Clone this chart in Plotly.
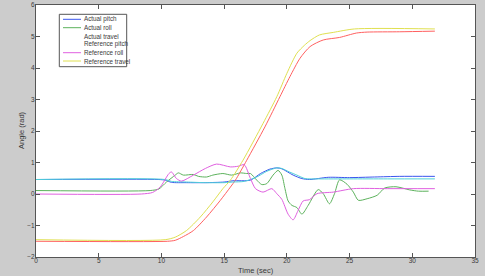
import plotly.graph_objects as go

# ---- data ----
pitch_t = [0, 9.8, 10.3, 10.8, 12.0, 13.5, 15.0, 15.7, 17.1, 17.9, 18.65, 19.2, 19.6, 20.5, 21.2, 21.8, 23.3, 25.0, 27.0, 29.0, 31.8]
pitch_y = [0.46, 0.46, 0.44, 0.37, 0.36, 0.36, 0.38, 0.42, 0.44, 0.65, 0.79, 0.83, 0.80, 0.60, 0.49, 0.46, 0.53, 0.52, 0.54, 0.56, 0.56]

roll_t = [0, 9.1, 9.8, 10.4, 11.1, 11.35, 11.75, 12.55, 12.95, 13.6, 14.1, 14.9, 15.6, 16.3, 16.8, 17.1, 17.6, 18.0, 18.4, 18.9, 19.3, 19.6, 19.85, 20.1, 20.4, 20.8, 21.2, 21.7, 22.5, 22.9, 23.4, 23.8, 24.2, 24.8, 25.3, 25.7, 26.4, 27.2, 27.8, 28.7, 29.8, 30.5, 31.3]
roll_y = [0.11, 0.11, 0.16, 0.38, 0.60, 0.67, 0.60, 0.62, 0.56, 0.54, 0.60, 0.65, 0.60, 0.67, 0.65, 0.65, 0.44, 0.30, 0.33, 0.60, 0.75, 0.60, 0.17, -0.22, -0.36, -0.43, -0.64, -0.36, 0.14, 0.01, -0.31, 0.01, 0.45, 0.31, 0.06, -0.20, -0.15, -0.04, 0.19, 0.23, 0.13, 0.09, 0.09]

travel_t = [0, 10.5, 11.1, 11.75, 12.55, 13.6, 14.7, 15.5, 15.9, 16.8, 18.25, 19.45, 20.25, 21.05, 21.85, 22.9, 24.2, 25.55, 26.4, 29.0, 31.8]
travel_y = [-1.50, -1.50, -1.47, -1.35, -1.16, -0.73, -0.20, 0.22, 0.44, 1.07, 2.13, 3.09, 3.73, 4.31, 4.68, 4.89, 4.97, 5.11, 5.14, 5.15, 5.17]

ref_pitch_t = [0, 10.3, 10.8, 12.0, 13.5, 15.0, 15.7, 16.6, 17.6, 18.4, 19.2, 19.6, 20.2, 20.8, 21.45, 22.5, 25.0, 28.0, 31.8]
ref_pitch_y = [0.46, 0.46, 0.40, 0.38, 0.36, 0.36, 0.38, 0.40, 0.54, 0.72, 0.83, 0.81, 0.70, 0.60, 0.49, 0.48, 0.48, 0.48, 0.48]

ref_roll_t = [0, 8.4, 9.3, 9.9, 10.6, 10.8, 11.2, 11.6, 12.55, 13.5, 14.4, 15.5, 16.1, 16.6, 17.1, 17.5, 18.1, 18.8, 19.2, 19.6, 20.1, 20.5, 20.9, 21.3, 21.8, 22.4, 23.7, 25.3, 28.0, 31.8]
ref_roll_y = [0.0, 0.0, 0.05, 0.22, 0.65, 0.70, 0.49, 0.41, 0.60, 0.81, 0.95, 0.86, 0.88, 0.93, 0.49, 0.17, 0.06, 0.17, 0.01, -0.17, -0.64, -0.82, -0.52, -0.22, -0.18, 0.01, 0.06, 0.17, 0.17, 0.17]

ref_travel_t = [0, 10.3, 11.1, 12.0, 13.1, 14.1, 14.9, 15.5, 16.5, 18.1, 19.2, 20.0, 20.8, 21.4, 21.85, 22.6, 23.7, 25.4, 31.8]
ref_travel_y = [-1.45, -1.45, -1.37, -1.16, -0.73, -0.25, 0.17, 0.44, 1.07, 2.24, 3.09, 3.83, 4.47, 4.72, 4.87, 5.05, 5.13, 5.24, 5.24]

names = ["Actual pitch", "Actual roll", "Actual travel", "Reference pitch", "Reference roll", "Reference travel"]
colors = ["#3a55ee", "#5cb25c", "#ff6060", "#4fd0d8", "#e060e0", "#e0e050"]
legend_swatch = [True, True, False, False, True, True]

x_ticks = [0, 5, 10, 15, 20, 25, 30, 35]
y_ticks = [-2, -1, 0, 1, 2, 3, 4, 5, 6]

series = [(pitch_t, pitch_y), (roll_t, roll_y), (travel_t, travel_y),
          (ref_pitch_t, ref_pitch_y), (ref_roll_t, ref_roll_y), (ref_travel_t, ref_travel_y)]

fig = go.Figure()
for (t, y), name, c in zip(series, names, colors):
    fig.add_trace(go.Scatter(x=t, y=y, mode="lines", name=name,
                             line=dict(color=c, width=1, shape="spline", smoothing=0.7),
                             showlegend=False))

W, H = 485, 276
ml, mr, mt, mb = 36, 10, 5, 19
pw, ph = W - ml - mr, H - mt - mb

def px2paper(px, py):
    return (px - ml) / pw, 1 - (py - mt) / ph

FONT = "Liberation Sans"
TXT = "#3a3a3a"
shapes = []
annotations = []
bx0, by0 = px2paper(59.3, 14.3)
bx1, by1 = px2paper(126.7, 66.7)
shapes.append(dict(type="rect", xref="paper", yref="paper", x0=bx0, y0=by1, x1=bx1, y1=by0,
                   line=dict(color="#555555", width=1), fillcolor="white", layer="above"))
row_y = [19.3, 27.7, 36.0, 44.3, 52.7, 61.0]
for name, c, sw, ry in zip(names, colors, legend_swatch, row_y):
    lx0, ly = px2paper(63, ry)
    lx1, _ = px2paper(81, ry)
    if sw:
        shapes.append(dict(type="line", xref="paper", yref="paper", x0=lx0, x1=lx1, y0=ly, y1=ly,
                           line=dict(color=c, width=1), layer="above"))
    tx, _ = px2paper(82, ry)
    annotations.append(dict(xref="paper", yref="paper", x=tx, y=ly, text=name, showarrow=False,
                            xanchor="left", yanchor="middle",
                            font=dict(size=6.3, color=TXT, family=FONT)))

# axis titles
tx, ty = px2paper(255.6, 270)
annotations.append(dict(xref="paper", yref="paper", x=tx, y=ty, text="Time (sec)", showarrow=False,
                        xanchor="center", yanchor="middle", font=dict(size=7.5, color=TXT, family=FONT)))
tx, ty = px2paper(21.5, 130.5)
annotations.append(dict(xref="paper", yref="paper", x=tx, y=ty, text="Angle (rad)", showarrow=False,
                        textangle=-90, xanchor="center", yanchor="middle",
                        font=dict(size=7.5, color=TXT, family=FONT)))

axis_common = dict(showline=True, linecolor="#555555", linewidth=1, mirror="ticks", automargin=False,
                   ticks="inside", ticklen=4, tickcolor="#555555", showgrid=False, zeroline=False,
                   tickfont=dict(size=6.5, color=TXT, family=FONT))

fig.update_layout(
    width=W, height=H,
    margin=dict(l=ml, r=mr, t=mt, b=mb, autoexpand=False),
    paper_bgcolor="#cccccc", plot_bgcolor="white",
    showlegend=False,
    shapes=shapes, annotations=annotations,
    xaxis=dict(range=[0, 35], tickvals=x_ticks, ticklabelstandoff=-3, **axis_common),
    yaxis=dict(range=[-2, 6], tickvals=y_ticks, ticklabelstandoff=-1, **axis_common),
)

fig.write_html("out.html", config={"displayModeBar": False},
               post_script="document.body.style.margin='0';document.body.style.background='#cccccc';")
